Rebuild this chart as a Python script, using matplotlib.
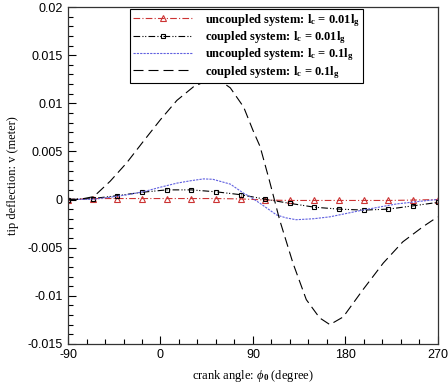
import numpy as np
import matplotlib
matplotlib.use('Agg')
import matplotlib.pyplot as plt
from matplotlib.ticker import MultipleLocator, FuncFormatter

# crank angle (degree) of the marker points, 24 degree steps
phi_markers = [-90, -66, -42, -18, 6, 30, 54, 78, 102, 126, 150, 174, 198, 222, 246, 270]

# uncoupled system, lc = 0.01 lg
v_unc_001 = [0, 0.0001, 0.0001, 0.0001, 0.0001, 0.0001, 0.0001, 0.00006,
             -0.00005, -0.0001, -0.0001, -0.0001, -0.0001, -0.0001, -0.00006, 0]

# coupled system, lc = 0.01 lg
v_cpl_001 = [0, 0.0001, 0.0004, 0.00075, 0.001, 0.001, 0.0008, 0.0005,
             0.00003, -0.0004, -0.0008, -0.001, -0.0011, -0.001, -0.00066, -0.0003]

# uncoupled system, lc = 0.1 lg
phi_unc_01 = [-90, -65, -49, -33, -17, 0, 16, 30, 42, 51, 68, 81, 87, 97, 105,
              113, 122, 132, 149, 165, 197, 230, 256, 270]
v_unc_01 = [0, 0.00003, 0.00024, 0.00048, 0.0008, 0.00128, 0.0017, 0.00196, 0.00214,
            0.0021, 0.0016, 0.00065, 0.0003, -0.0004, -0.001, -0.0016, -0.0019,
            -0.0021, -0.0020, -0.0018, -0.0011, -0.00046, -0.00015, 0]

# coupled system, lc = 0.1 lg
phi_cpl_01 = [-90, -78, -65, -49, -33, -17, 0, 16, 32, 42, 51, 60, 68, 81, 90, 97,
              106, 116, 129, 142, 155, 165, 178, 197, 217, 236, 256, 270]
v_cpl_01 = [0, 0.00003, 0.0003, 0.0019, 0.0038, 0.0060, 0.0083, 0.0103, 0.0117, 0.0122,
            0.0124, 0.0122, 0.0116, 0.0096, 0.0072, 0.0055, 0.0020, -0.0021, -0.0066,
            -0.0104, -0.0123, -0.0130, -0.0122, -0.0094, -0.0066, -0.0044, -0.0028, -0.0018]

labels = [
    r'uncoupled system: l$_\mathrm{c}$ = 0.01l$_\mathrm{g}$',
    r'coupled system: l$_\mathrm{c}$ = 0.01l$_\mathrm{g}$',
    r'uncoupled system: l$_\mathrm{c}$ = 0.1l$_\mathrm{g}$',
    r'coupled system: l$_\mathrm{c}$ = 0.1l$_\mathrm{g}$',
]

plt.rcParams['mathtext.fontset'] = 'custom'
plt.rcParams['mathtext.rm'] = 'Liberation Serif:bold'
plt.rcParams['mathtext.it'] = 'Liberation Serif:italic'
plt.rcParams['mathtext.bf'] = 'Liberation Serif:bold'

fig = plt.figure(figsize=(4.48, 3.89), dpi=100)
ax = fig.add_axes([0.152, 0.116, 0.825, 0.866])

ax.plot(phi_markers, v_unc_001, color='#cc3333', lw=0.8, linestyle=(0, (6, 2, 1, 2)),
        marker='^', ms=4, mfc='none', mew=0.8, label=labels[0])
ax.plot(phi_markers, v_cpl_001, color='black', lw=0.8, linestyle=(0, (6, 2, 1, 1.5, 1, 2)),
        marker='s', ms=3.5, mfc='none', mew=0.8, label=labels[1])
ax.plot(phi_unc_01, v_unc_01, color='#6060e0', lw=0.8, linestyle=(0, (2, 1)),
        label=labels[2])
ax.plot(phi_cpl_01, v_cpl_01, color='black', lw=0.8, linestyle=(0, (9, 4.5)),
        label=labels[3])

ax.set_xlim(-90, 270)
ax.set_ylim(-0.015, 0.02)
ax.xaxis.set_major_locator(MultipleLocator(90))
ax.xaxis.set_minor_locator(MultipleLocator(18))
ax.yaxis.set_major_locator(MultipleLocator(0.005))
ax.yaxis.set_minor_locator(MultipleLocator(0.001))
ax.xaxis.set_major_formatter(FuncFormatter(lambda v, p: '%g' % v))
ax.yaxis.set_major_formatter(FuncFormatter(lambda v, p: '%g' % round(v, 4)))
ax.tick_params(which='both', direction='in', top=False, right=False,
               labelsize=9, width=0.8)
ax.tick_params(which='major', length=6, pad=4)
ax.tick_params(which='minor', length=3.5)
for lbl in ax.get_xticklabels() + ax.get_yticklabels():
    lbl.set_family('Liberation Sans')
for sp in ax.spines.values():
    sp.set_linewidth(0.9)
    sp.set_color('#333333')

ax.set_xlabel(r'crank angle: $\phi_0$ (degree)', family='Liberation Serif', fontsize=9, labelpad=5)
ax.set_ylabel('tip deflection: v (meter)', family='Liberation Serif', fontsize=9, labelpad=6)

leg = ax.legend(loc='upper left', bbox_to_anchor=(0.168, 0.993), fancybox=False,
                edgecolor='black', framealpha=1, handlelength=4.8, borderaxespad=0,
                prop={'family': 'Liberation Serif', 'weight': 'bold', 'size': 9},
                labelspacing=0.05, borderpad=0.2, numpoints=1, handletextpad=1.0)
leg.get_frame().set_linewidth(0.8)

fig.savefig('out.png', dpi=100)
